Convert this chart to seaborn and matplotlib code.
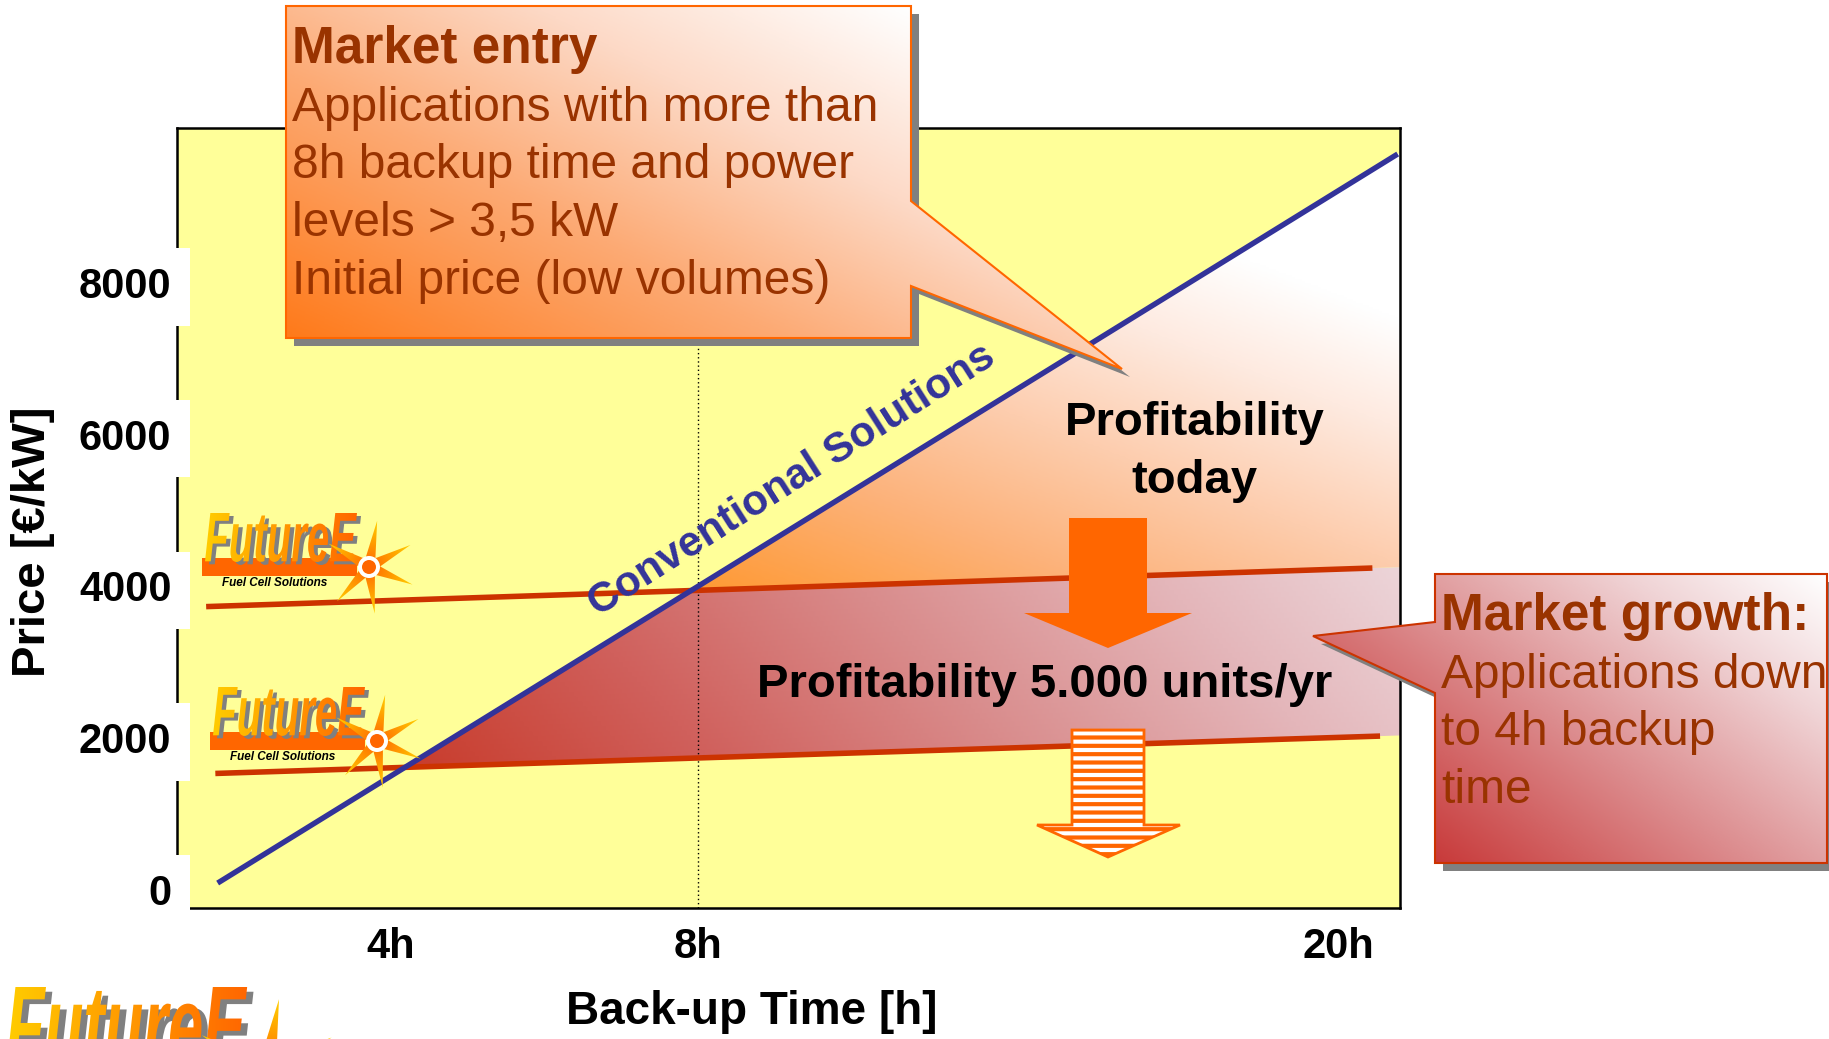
import numpy as np
import pandas as pd
import matplotlib
matplotlib.use("Agg")
import matplotlib.pyplot as plt
import seaborn as sns
from matplotlib.patches import Polygon, Rectangle, PathPatch, Circle
from matplotlib.path import Path
from matplotlib.textpath import TextPath
from matplotlib.font_manager import FontProperties
from matplotlib.colors import LinearSegmentedColormap
from matplotlib.transforms import Affine2D

# ---------------- data ----------------
conv_pos = [1.74, 17.13]          # position on the (schematic) back-up time axis
conv_price = [79, 9697]           # EUR/kW
entry_pos = [1.59, 16.80]
entry_price = [3726, 4235]
volume_pos = [1.71, 16.90]
volume_price = [1525, 2018]

price_ticks = [0, 2000, 4000, 6000, 8000]
time_tick_pos = [4, 8, 16.35]
time_tick_labels = ["4h", "8h", "20h"]
entry_backup_pos = 8
x_range = (1.21, 17.16)
y_range = (-250, 10040)

entry_title = "Market entry"
entry_lines = ["Applications with more than", "8h backup time and power",
               "levels > 3,5 kW", "Initial price (low volumes)"]
growth_title = "Market growth:"
growth_lines = ["Applications down", "to 4h backup", "time"]

# ---------------- style ----------------
W, H = 1829, 1039
sns.set_theme(style="white", rc={"axes.facecolor": "#FFFF99", "axes.edgecolor": "black"})
plt.rcParams["font.family"] = ["Liberation Sans", "DejaVu Sans"]
plt.rcParams["hatch.linewidth"] = 3.0

BROWN = "#993300"
ORANGE = "#FF6600"
RED = "#CC3300"
BLUE = "#333399"


def gradient_image(ax, clip_patch, extent, tfunc, colors, zorder, N=220):
    xa, xb, ya, yb = extent
    X, Y = np.meshgrid(np.linspace(xa, xb, N), np.linspace(ya, yb, N))
    t = np.clip(tfunc(X, Y), 0, 1)
    cmap = LinearSegmentedColormap.from_list("g", colors)
    im = ax.imshow(t, cmap=cmap, vmin=0, vmax=1, extent=(xa, xb, ya, yb),
                   origin="lower", aspect="auto", interpolation="bilinear",
                   zorder=zorder)
    im.set_clip_path(clip_patch)
    return im


def line_coef(xs, ys):
    m = (ys[1] - ys[0]) / (xs[1] - xs[0])
    return m, ys[0] - m * xs[0]


def cross(l1, l2):
    (m1, b1), (m2, b2) = l1, l2
    x = (b2 - b1) / (m1 - m2)
    return x, m1 * x + b1


fig = plt.figure(figsize=(W / 100, H / 100), dpi=100)
fig.patch.set_facecolor("white")
ax = fig.add_axes([177 / W, 1 - 908 / H, 1223 / W, 780 / H])
ax.set_xlim(*x_range)
ax.set_ylim(*y_range)

# ---------------- shaded profitability regions ----------------
lc = line_coef(conv_pos, conv_price)
le = line_coef(entry_pos, entry_price)
lv = line_coef(volume_pos, volume_price)
xr = x_range[1]
p_ce = cross(lc, le)
p_cv = cross(lc, lv)
conv_r = lc[0] * xr + lc[1]
entry_r = le[0] * xr + le[1]
vol_r = lv[0] * xr + lv[1]

upper = np.array([p_ce, (xr, conv_r), (xr, entry_r)])
poly_u = Polygon(upper, closed=True, fc="none", ec="none")
ax.add_patch(poly_u)
gradient_image(ax, poly_u, (p_ce[0], xr, p_ce[1], conv_r),
               lambda X, Y: 0.5 * (X - p_ce[0]) / (xr - p_ce[0]) + 0.8 * (Y - p_ce[1]) / (conv_r - p_ce[1]),
               [(0, "#FF9933"), (0.3, "#FCB27A"), (0.55, "#FDCDAE"), (0.8, "#FEEAE0"), (1, "#FFFFFF")], 1)

lower = np.array([p_cv, p_ce, (xr, entry_r), (xr, vol_r)])
poly_l = Polygon(lower, closed=True, fc="none", ec="none")
ax.add_patch(poly_l)
gradient_image(ax, poly_l, (p_cv[0], xr, p_cv[1], entry_r),
               lambda X, Y: 0.8 * (X - p_cv[0]) / (xr - p_cv[0]) + 0.15 * (Y - p_cv[1]) / (entry_r - p_cv[1]),
               [(0, "#C83C2C"), (0.25, "#D0605C"), (0.5, "#D98C8C"), (0.75, "#E4B6BA"), (1, "#EEDCE0")], 1)

ax.axvline(entry_backup_pos, color="black", ls=(0, (1, 2)), lw=1.0, zorder=3)

# ---------------- lines ----------------
sns.lineplot(x=entry_pos, y=entry_price, color=RED, linewidth=4.0, ax=ax, zorder=4, solid_capstyle="butt")
sns.lineplot(x=volume_pos, y=volume_price, color=RED, linewidth=4.0, ax=ax, zorder=4, solid_capstyle="butt")
sns.lineplot(x=conv_pos, y=conv_price, color=BLUE, linewidth=3.9, ax=ax, zorder=5, solid_capstyle="butt")

ax.set_xlim(*x_range)
ax.set_ylim(*y_range)
for s in ax.spines.values():
    s.set_visible(True)
    s.set_color("black")
    s.set_linewidth(1.8)

ax.set_xticks(time_tick_pos, time_tick_labels)
ax.set_yticks(price_ticks, [str(p) for p in price_ticks])
ax.tick_params(axis="y", length=0, pad=4, labelsize=30, labelcolor="black")
ax.tick_params(axis="x", length=0, pad=14, labelsize=30, labelcolor="black")
for lab in ax.get_xticklabels() + ax.get_yticklabels():
    lab.set_fontweight("bold")
for lab in ax.get_yticklabels():
    lab.set_bbox(dict(boxstyle="square,pad=0.45", fc="white", ec="none"))
ax.yaxis.set_zorder(6)

ax.set_ylabel("Price [€/kW]", fontsize=34, fontweight="bold", color="black")
ax.yaxis.set_label_coords((33 - 177) / 1223, (908 - 542) / 780)
ax.yaxis.label.set_verticalalignment("center")
ax.set_xlabel("Back-up Time [h]", fontsize=33, fontweight="bold", color="black")
ax.xaxis.set_label_coords((752 - 177) / 1223, (908 - 1012) / 780)
ax.xaxis.label.set_verticalalignment("center")

# ---------------- overlay (pixel coordinates) ----------------
ov = fig.add_axes([0, 0, 1, 1])
ov.set_xlim(0, W)
ov.set_ylim(H, 0)
ov.axis("off")
ov.set_zorder(3)
ov.patch.set_visible(False)

LOGO_FP = FontProperties(family="Liberation Sans", weight="bold", style="italic")


def logo(ax, x, y, s, subtitle=True):
    tp = TextPath((0, 0), "FutureE", size=100, prop=LOGO_FP)
    bb = tp.get_extents()
    Wl, Hl = 152 * s, 49 * s
    ax.add_patch(Rectangle((x - 3 * s, y + 45 * s), 155 * s, 18 * s, fc=ORANGE, ec="none", zorder=5))

    def place(dx, dy):
        tr = Affine2D().translate(-bb.x0, -bb.y1).scale(Wl / bb.width, -Hl / bb.height).translate(x + dx, y + dy)
        return tr.transform_path(tp)

    ax.add_patch(PathPatch(place(4 * s, 3 * s), fc="#808080", ec="none", zorder=6))
    letters = PathPatch(place(0, 0), fc="none", ec="none", zorder=7)
    ax.add_patch(letters)
    gradient_image(ax, letters, (x, x + Wl, y, y + Hl), lambda X, Y: (X - x) / Wl,
                   [(0, "#FFCC00"), (0.5, "#FF9900"), (1, "#FF6600")], 7)
    if subtitle:
        ax.text(x + 17 * s, y + 70 * s, "Fuel Cell Solutions", fontsize=8.5 * s, fontweight="bold",
                style="italic", color="black", va="center", ha="left", zorder=8)
    cx, cy = x + 164 * s, y + 54 * s
    R = 47 * s
    paths = []
    for a in [80, 28, -22, -83, -133, 150]:
        th = np.deg2rad(a)
        d = np.array([np.cos(th), -np.sin(th)])
        p = np.array([np.sin(th), np.cos(th)])
        c = np.array([cx, cy])
        pts = np.array([c + 8 * s * d + 5 * s * p, c + R * d, c + 8 * s * d - 5 * s * p, c + 8 * s * d + 5 * s * p])
        paths.append(Path(pts, [Path.MOVETO, Path.LINETO, Path.LINETO, Path.CLOSEPOLY]))
    star = PathPatch(Path.make_compound_path(*paths), fc="none", ec="none", zorder=8)
    ax.add_patch(star)
    gradient_image(ax, star, (cx - R, cx + R, cy - R, cy + R),
                   lambda X, Y: np.hypot(X - cx, Y - cy) / R,
                   [(0, "#FF6600"), (0.5, "#FF9900"), (1, "#FFD000")], 8)
    ax.add_patch(Circle((cx, cy), 11 * s, fc="white", ec="none", zorder=9))
    ax.add_patch(Circle((cx, cy), 7 * s, fc=ORANGE, ec="none", zorder=10))


logo(ov, 205, 513, 1.0)
logo(ov, 213, 687, 1.0)
logo(ov, 7, 987, 1.58, subtitle=False)


def callout(ax, box, ptr, side, edge, colors, title, lines, tx, ty0):
    x0, y0, x1, y1 = box
    ya, tip, yb = ptr
    if side == "right":
        verts = [(x0, y0), (x1, y0), (x1, ya), tip, (x1, yb), (x1, y1), (x0, y1)]
    else:
        verts = [(x0, y0), (x1, y0), (x1, y1), (x0, y1), (x0, yb), tip, (x0, ya)]
    verts = np.array(verts, dtype=float)
    ax.add_patch(Polygon(verts + [8, 8], closed=True, fc="#808080", ec="none", zorder=11))
    clip = Polygon(verts, closed=True, fc="none", ec="none", zorder=12)
    ax.add_patch(clip)
    ext = (verts[:, 0].min(), verts[:, 0].max(), verts[:, 1].min(), verts[:, 1].max())
    gradient_image(ax, clip, ext,
                   lambda X, Y: 0.5 * (X - x0) / (x1 - x0) + 0.5 * (y1 - Y) / (y1 - y0),
                   colors, 12)
    ax.add_patch(Polygon(verts, closed=True, fc="none", ec=edge, lw=1.5, zorder=13))
    ax.text(tx, ty0, title, fontsize=37, fontweight="bold", color=BROWN, ha="left", va="baseline", zorder=14)
    for i, ln in enumerate(lines):
        ax.text(tx, ty0 + 57.7 * (i + 1), ln, fontsize=34.5, color=BROWN, ha="left", va="baseline", zorder=14)


callout(ov, (286, 6, 911, 338), (201, (1122, 369), 286), "right", ORANGE,
        [(0, "#FF7A1A"), (0.4, "#FCAA74"), (0.7, "#FDD9C6"), (1, "#FFFFFF")],
        entry_title, entry_lines, 292, 63)
callout(ov, (1435, 574, 1827, 863), (622, (1313, 636), 693), "left", RED,
        [(0, "#C83A3A"), (0.4, "#DC8C8E"), (0.75, "#F0D4D6"), (1, "#FFFFFF")],
        growth_title, growth_lines, 1441, 630)

# arrows
solid = [(1069, 518), (1147, 518), (1147, 613), (1192, 613), (1108, 648), (1024, 613), (1069, 613)]
ov.add_patch(Polygon(solid, closed=True, fc=ORANGE, ec="none", zorder=9))
striped = [(1072, 730), (1144, 730), (1144, 825), (1180, 825), (1108, 857), (1037, 825), (1072, 825)]
ov.add_patch(Polygon(striped, closed=True, fc="white", ec=ORANGE, hatch="--", lw=2, zorder=9))

# labels
ov.text(1195, 435, "Profitability", fontsize=34, fontweight="bold", color="black", ha="center", va="baseline", zorder=10)
ov.text(1194, 493, "today", fontsize=34, fontweight="bold", color="black", ha="center", va="baseline", zorder=10)
ov.text(1045, 697, "Profitability 5.000 units/yr", fontsize=34, fontweight="bold", color="black",
        ha="center", va="baseline", zorder=10)
ov.text(792, 480, "Conventional Solutions", fontsize=30.5, fontweight="bold", color=BLUE,
        rotation=32.5, rotation_mode="anchor", ha="center", va="center", zorder=10)

ov.set_xlim(0, W)
ov.set_ylim(H, 0)
ax.set_xlim(*x_range)
ax.set_ylim(*y_range)

fig.savefig("out.png", dpi=100, facecolor="white")
